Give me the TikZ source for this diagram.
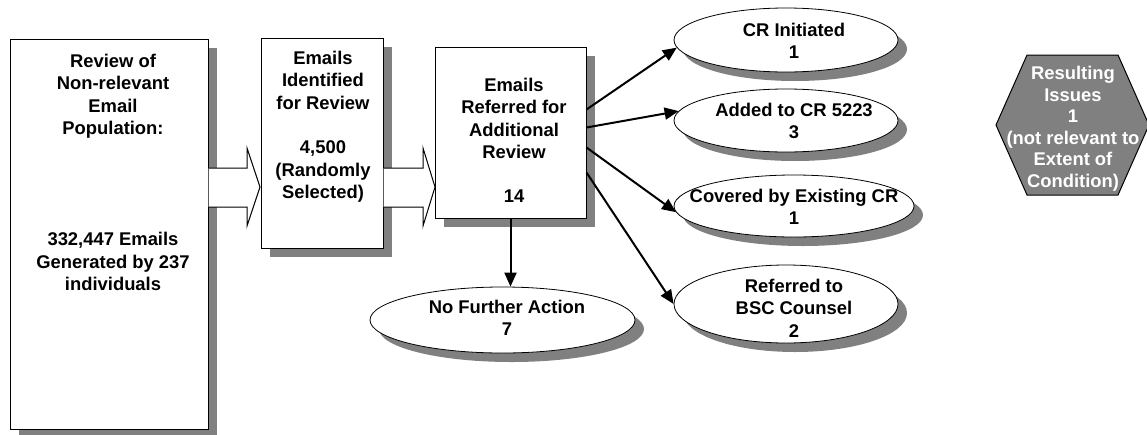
\documentclass[tikz,border=0pt]{standalone}
\usepackage{fontspec}
\setmainfont{Liberation Sans}
\usetikzlibrary{shapes.geometric,arrows.meta,shadows}
\definecolor{sg}{RGB}{128,128,128}
\begin{document}
\begin{tikzpicture}[x=1pt,y=-1pt,
  shd/.style={drop shadow={shadow xshift=9pt,shadow yshift=-9pt,fill=sg,opacity=1}},
  box/.style={rectangle,draw=black,line width=1pt,fill=white,inner sep=0pt,shd},
  ell/.style={ellipse,draw=black,line width=0.8pt,fill=white,inner sep=0pt,shd},
  lbl/.style={font=\fontsize{18.4}{22.3}\selectfont\bfseries,align=center,inner sep=0pt,anchor=north},
  conn/.style={line width=2pt,-{Triangle[length=14pt,width=12pt]}},
  blk/.style={draw=black,line width=1pt,fill=white,line join=miter},
]
\useasboundingbox (0,0) rectangle (1147,434);

% boxes
\node[box,minimum width=198,minimum height=390] (b1) at (109,234) {};
\node[box,minimum width=122,minimum height=210] (b2) at (322,143) {};
\node[box,minimum width=151,minimum height=171] (b3) at (510.5,132.5) {};

% ellipses
\node[ell,minimum width=224,minimum height=64] (e1) at (786,40) {};
\node[ell,minimum width=224,minimum height=63] (e2) at (786,120.5) {};
\node[ell,minimum width=240,minimum height=62] (e3) at (794,206) {};
\node[ell,minimum width=224,minimum height=78] (e4) at (786,304) {};
\node[ell,minimum width=265,minimum height=66] (e5) at (502.5,320) {};

% block arrows
\draw[blk] (208.5,168) -- (247,168) -- (247,148) -- (260,187) -- (247,226) -- (247,207) -- (208.5,207);
\draw[blk] (383.5,168) -- (423,168) -- (423,148) -- (435,187) -- (423,226) -- (423,207) -- (383.5,207);

% labels
\node[lbl] (t1) at (113,54) {Review of\\Non-relevant\\Email\\Population:\\[89pt]332,447 Emails\\Generated by 237\\individuals};
\node[lbl] (t2) at (323,51) {Emails\\Identified\\for Review\\[22.5pt]4,500\\(Randomly\\Selected)};
\node[lbl] (t3) at (514,78) {Emails\\Referred for\\Additional\\Review\\[22pt]14};
\node[lbl] (l1) at (794,23) {CR Initiated\\1};
\node[lbl] (l2) at (794,103) {Added to CR 5223\\3};
\node[lbl] (l3) at (794,189) {Covered by Existing CR\\1};
\node[lbl] (l4) at (794,279) {Referred to\\BSC Counsel\\2};
\node[lbl] (l5) at (507,300) {No Further Action\\7};

% connectors
\draw[conn] ([yshift=-63pt]b3.north east) -- (e1.184);
\draw[conn] ([yshift=-81pt]b3.north east) -- (e2.175);
\draw[conn] ([yshift=-101pt]b3.north east) -- (e3.183);
\draw[conn] ([yshift=-126pt]b3.north east) -- (e4.180);
\draw[conn] (b3.south) -- (b3.south |- e5.north);

% hexagon
\draw[fill=sg,draw=black,line width=1pt] (996,125) -- (1027,55) -- (1118,55) -- (1149,125) -- (1118,195) -- (1027,195) -- cycle;
\node[lbl,text=white,font=\fontsize{18.4}{21.5}\selectfont\bfseries] (hx) at (1073,66) {Resulting\\Issues\\1\\(not relevant to\\Extent of\\Condition)};
\end{tikzpicture}
\end{document}
